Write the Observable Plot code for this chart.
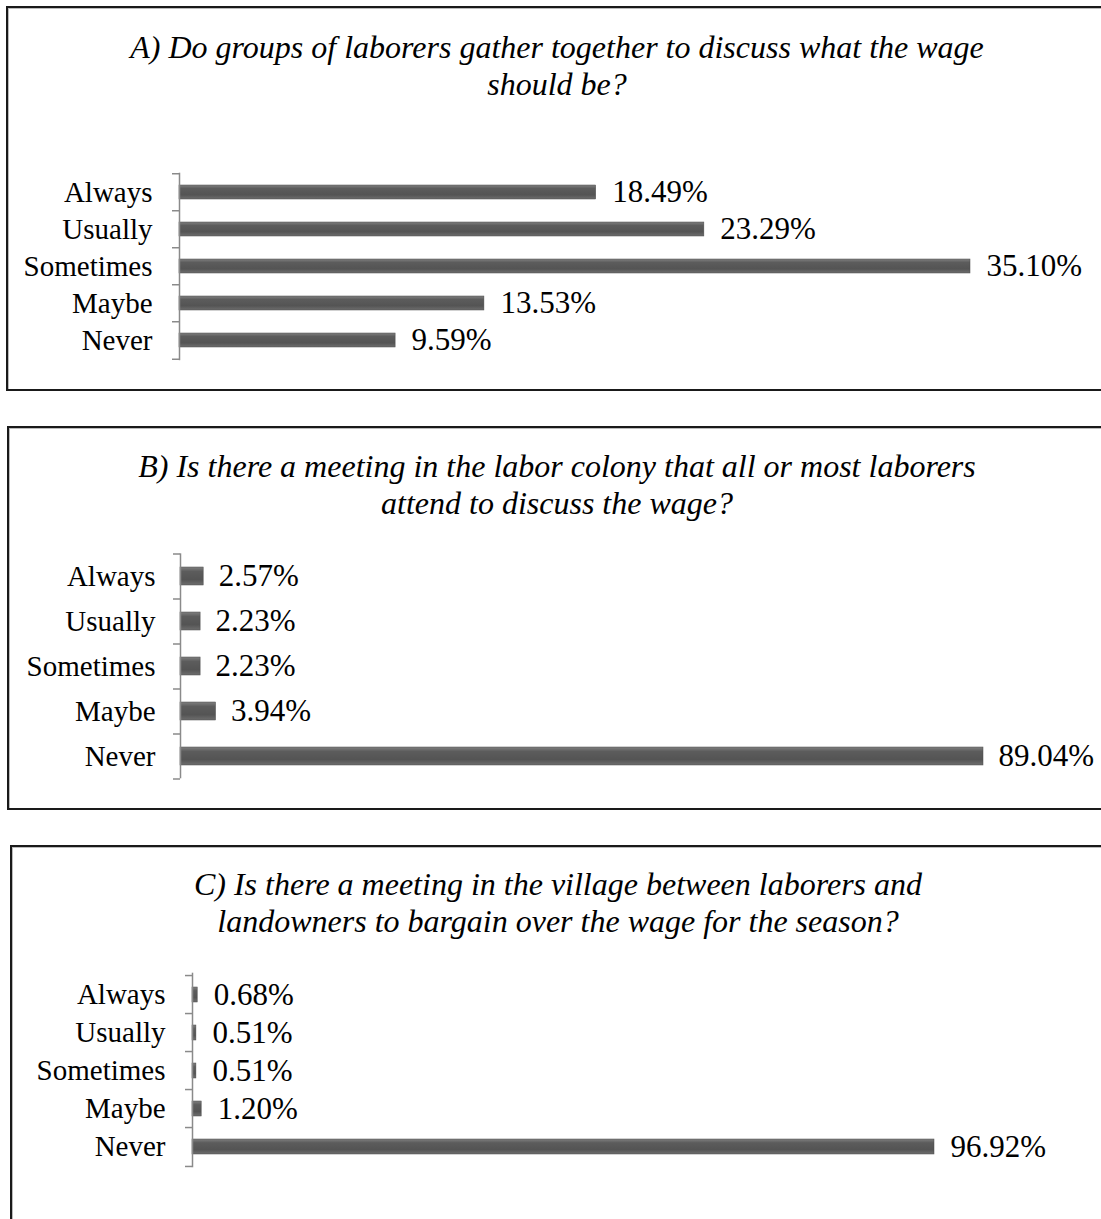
<!DOCTYPE html>
<html>
<head>
<meta charset="utf-8">
<script src="https://cdn.jsdelivr.net/npm/d3@7"></script>
<script src="https://cdn.jsdelivr.net/npm/@observablehq/plot@0.6"></script>
<style>
  html, body { margin: 0; padding: 0; background: #fff; }
  #page { position: relative; width: 1101px; height: 1219px; overflow: hidden; background: #fff; }
  .box { position: absolute; box-sizing: border-box; border: 2px solid #1a1a1a; box-shadow: inset 1px 1px 0 #bbb; }
  .title { position: absolute; width: 1100px; text-align: center; font-family: "Liberation Serif", "Times New Roman", serif; font-style: italic; font-size: 32px; line-height: 37px; color: #000; white-space: nowrap; }
  .chart { position: absolute; left: 0; }
</style>
</head>
<body>
<svg width="0" height="0" style="position:absolute">
  <defs>
    <linearGradient id="barGrad" x1="0" y1="0" x2="0" y2="1">
      <stop offset="0" stop-color="#808080"/>
      <stop offset="0.25" stop-color="#5c5c5c"/>
      <stop offset="0.7" stop-color="#545454"/>
      <stop offset="1" stop-color="#6e6e6e"/>
    </linearGradient>
  </defs>
</svg>
<div id="page"></div>
<script>
const categories = ["Always", "Usually", "Sometimes", "Maybe", "Never"];
const valuesA = [18.49, 23.29, 35.10, 13.53, 9.59];
const valuesB = [2.57, 2.23, 2.23, 3.94, 89.04];
const valuesC = [0.68, 0.51, 0.51, 1.20, 96.92];
const titleA = ["A) Do groups of laborers gather together to discuss what the wage", "should be?"];
const titleB = ["B) Is there a meeting in the labor colony that all or most laborers", "attend to discuss the wage?"];
const titleC = ["C) Is there a meeting in the village between laborers and", "landowners to bargain over the wage for the season?"];

const page = document.getElementById("page");

function addBox(left, top, width, height) {
  const d = document.createElement("div");
  d.className = "box";
  Object.assign(d.style, {left: left + "px", top: top + "px", width: width + "px", height: height + "px"});
  page.appendChild(d);
}
function addTitle(lines, top, cx) {
  const d = document.createElement("div");
  d.className = "title";
  d.style.top = top + "px";
  d.style.left = (cx - 550) + "px";
  d.innerHTML = lines.join("<br>");
  page.appendChild(d);
}
function addChart(values, o) {
  const data = categories.map((c, i) => ({cat: c, value: values[i]}));
  const step = (o.height - o.marginTop - o.marginBottom) / categories.length;
  const axisColor = "#8a8a8a";
  const chart = Plot.plot({
    width: 1101,
    height: o.height,
    marginTop: o.marginTop,
    marginBottom: o.marginBottom,
    marginLeft: o.marginLeft,
    marginRight: o.marginRight,
    style: {fontFamily: "'Liberation Serif', 'Times New Roman', serif", fontSize: o.catSize + "px", color: "#000", background: "transparent", overflow: "visible"},
    x: {domain: [0, d3.max(values)], axis: null},
    y: {domain: categories, paddingInner: 0.61, paddingOuter: 0.305, tickSize: 0, tickPadding: o.tickPadding, label: null},
    marks: [
      Plot.barX(data, {x: "value", y: "cat", fill: "url(#barGrad)", stroke: "#4a4a4a", strokeWidth: 0.5}),
      Plot.ruleX([0], {stroke: axisColor, strokeWidth: 1.5}),
      Plot.ruleY(categories, {y: d => d, x1: 0, x2: 0, insetLeft: -7, dy: -step / 2, stroke: axisColor, strokeWidth: 1.5}),
      Plot.ruleY([categories[categories.length - 1]], {y: d => d, x1: 0, x2: 0, insetLeft: -7, dy: step / 2, stroke: axisColor, strokeWidth: 1.5}),
      Plot.text(data, {x: "value", y: "cat", text: d => d3.format(".2f")(d.value) + "%", textAnchor: "start", dx: o.labelDx, fill: "#000", fontSize: o.valSize})
    ]
  });
  chart.classList.add("chart");
  chart.style.top = o.top + "px";
  page.appendChild(chart);
}

// Panel A
addBox(6, 6, 1120, 385);
addTitle(titleA, 28.5, 557);
addChart(valuesA, {top: 160, height: 215, marginTop: 12.7, marginBottom: 14.8, marginLeft: 179, marginRight: 131, tickPadding: 27, labelDx: 16, catSize: 29, valSize: 31});

// Panel B
addBox(7, 426, 1120, 384);
addTitle(titleB, 447.5, 557);
addChart(valuesB, {top: 540, height: 255, marginTop: 13.3, marginBottom: 16.7, marginLeft: 180, marginRight: 118, tickPadding: 25, labelDx: 15, catSize: 29, valSize: 31});

// Panel C
addBox(10, 845, 1120, 420);
addTitle(titleC, 865.5, 558);
addChart(valuesC, {top: 960, height: 220, marginTop: 12.7, marginBottom: 12.7, marginLeft: 192, marginRight: 167, tickPadding: 27, labelDx: 16, catSize: 29, valSize: 31});
</script>
</body>
</html>
